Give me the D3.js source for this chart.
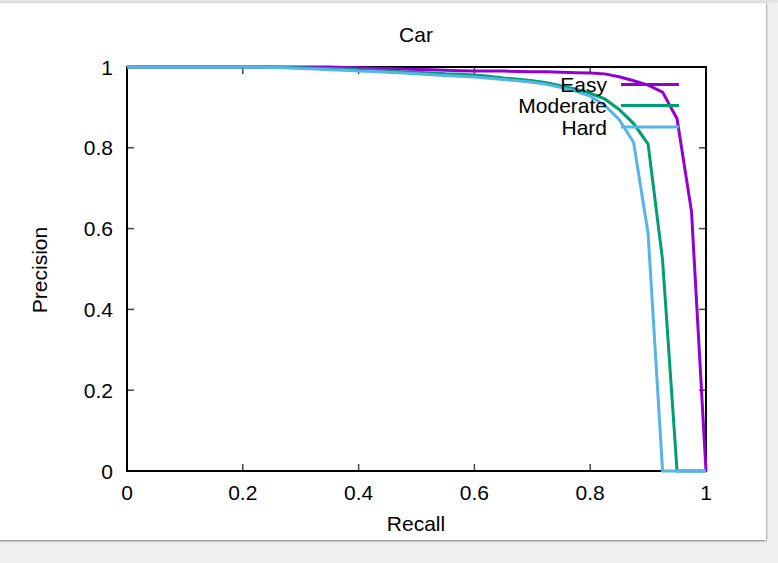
<!DOCTYPE html>
<html>
<head>
<meta charset="utf-8">
<script src="https://cdn.jsdelivr.net/npm/d3@7"></script>
<style>
  html, body { margin: 0; padding: 0; width: 778px; height: 563px; overflow: hidden; background: #f0efed; }
  #card { position: absolute; left: -10px; top: 3px; width: 776px; height: 537px; background: #fff;
          box-shadow: 0 1px 2px rgba(0,0,0,0.45), 1px 0 2px rgba(0,0,0,0.12); }
  #topbar { position: absolute; left: 0; top: 0; width: 778px; height: 3px; background: #e6e5e3; }
  svg { position: absolute; left: 0; top: 0; }
  text { font-family: "Liberation Sans", Arial, sans-serif; font-size: 21px; fill: #000; }
</style>
</head>
<body>
<div id="topbar"></div>
<div id="card"></div>
<svg id="chart" width="778" height="563"></svg>
<script>
const title = "Car";
const xLabel = "Recall";
const yLabel = "Precision";
const seriesNames = ["Easy", "Moderate", "Hard"];
const seriesColors = ["#9400d3", "#009e73", "#56b4e9"];
const recall = [0,0.025,0.05,0.075,0.1,0.125,0.15,0.175,0.2,0.225,0.25,0.275,0.3,0.325,0.35,0.375,0.4,0.425,0.45,0.475,0.5,0.525,0.55,0.575,0.6,0.625,0.65,0.675,0.7,0.725,0.75,0.775,0.8,0.825,0.85,0.875,0.9,0.925,0.95,0.975,1];
const easy = [1,1,1,1,1,1,1,1,1,1,1,1,1,1,1,0.999,0.998,0.997,0.996,0.995,0.994,0.993,0.992,0.991,0.99,0.99,0.99,0.989,0.988,0.988,0.987,0.986,0.985,0.983,0.976,0.966,0.955,0.938,0.872,0.642,0];
const moderate = [1,1,1,1,1,1,1,1,1,1,1,0.999,0.998,0.997,0.996,0.995,0.993,0.992,0.99,0.988,0.987,0.985,0.983,0.982,0.98,0.977,0.973,0.97,0.966,0.961,0.953,0.945,0.935,0.921,0.895,0.86,0.809,0.522,0,0,0];
const hard = [1,1,1,1,1,1,1,1,1,1,0.999,0.998,0.996,0.995,0.993,0.992,0.99,0.989,0.987,0.985,0.983,0.981,0.979,0.977,0.975,0.972,0.969,0.966,0.962,0.957,0.949,0.94,0.928,0.905,0.87,0.813,0.588,0,0,0,0];
const xTicks = [0,0.2,0.4,0.6,0.8,1];
const yTicks = [0,0.2,0.4,0.6,0.8,1];

const svg = d3.select("#chart");
const L = 127, R = 706, T = 67, B = 471;
const x = d3.scaleLinear().domain([0,1]).range([L,R]);
const y = d3.scaleLinear().domain([0,1]).range([B,T]);

// ticks (inward, mirrored)
const tickLen = 7;
const g = svg.append("g");
xTicks.forEach(v => {
  g.append("line").attr("x1", x(v)).attr("x2", x(v)).attr("y1", B).attr("y2", B - tickLen).attr("stroke", "#444").attr("stroke-width", 1.5);
  g.append("line").attr("x1", x(v)).attr("x2", x(v)).attr("y1", T).attr("y2", T + tickLen).attr("stroke", "#444").attr("stroke-width", 1.5);
  g.append("text").attr("x", x(v)).attr("y", 500).attr("text-anchor", "middle").text(d3.format("")(v));
});
yTicks.forEach(v => {
  g.append("line").attr("x1", L).attr("x2", L + tickLen).attr("y1", y(v)).attr("y2", y(v)).attr("stroke", "#444").attr("stroke-width", 1.5);
  g.append("line").attr("x1", R).attr("x2", R - tickLen).attr("y1", y(v)).attr("y2", y(v)).attr("stroke", "#444").attr("stroke-width", 1.5);
  g.append("text").attr("x", 113).attr("y", y(v) + 7.5).attr("text-anchor", "end").text(d3.format("")(v));
});

// border
svg.append("rect").attr("x", L).attr("y", T).attr("width", R - L).attr("height", B - T)
  .attr("fill", "none").attr("stroke", "#000").attr("stroke-width", 2);

// curves
const line = d3.line().x((d, i) => x(recall[i])).y(d => y(d));
[easy, moderate, hard].forEach((s, k) => {
  svg.append("path").datum(s).attr("d", line).attr("fill", "none")
    .attr("stroke", seriesColors[k]).attr("stroke-width", 3).attr("stroke-linejoin", "miter");
});

// legend
const legY = [84.5, 105.5, 127];
seriesNames.forEach((n, k) => {
  svg.append("text").attr("x", 607).attr("y", legY[k] + 7.5).attr("text-anchor", "end").text(n);
  svg.append("line").attr("x1", 621).attr("x2", 679).attr("y1", legY[k]).attr("y2", legY[k])
    .attr("stroke", seriesColors[k]).attr("stroke-width", 3);
});

// titles
svg.append("text").attr("x", 416).attr("y", 42).attr("text-anchor", "middle").text(title);
svg.append("text").attr("x", 416).attr("y", 531).attr("text-anchor", "middle").text(xLabel);
svg.append("text").attr("transform", "translate(47,270) rotate(-90)").attr("text-anchor", "middle").text(yLabel);
</script>
</body>
</html>
